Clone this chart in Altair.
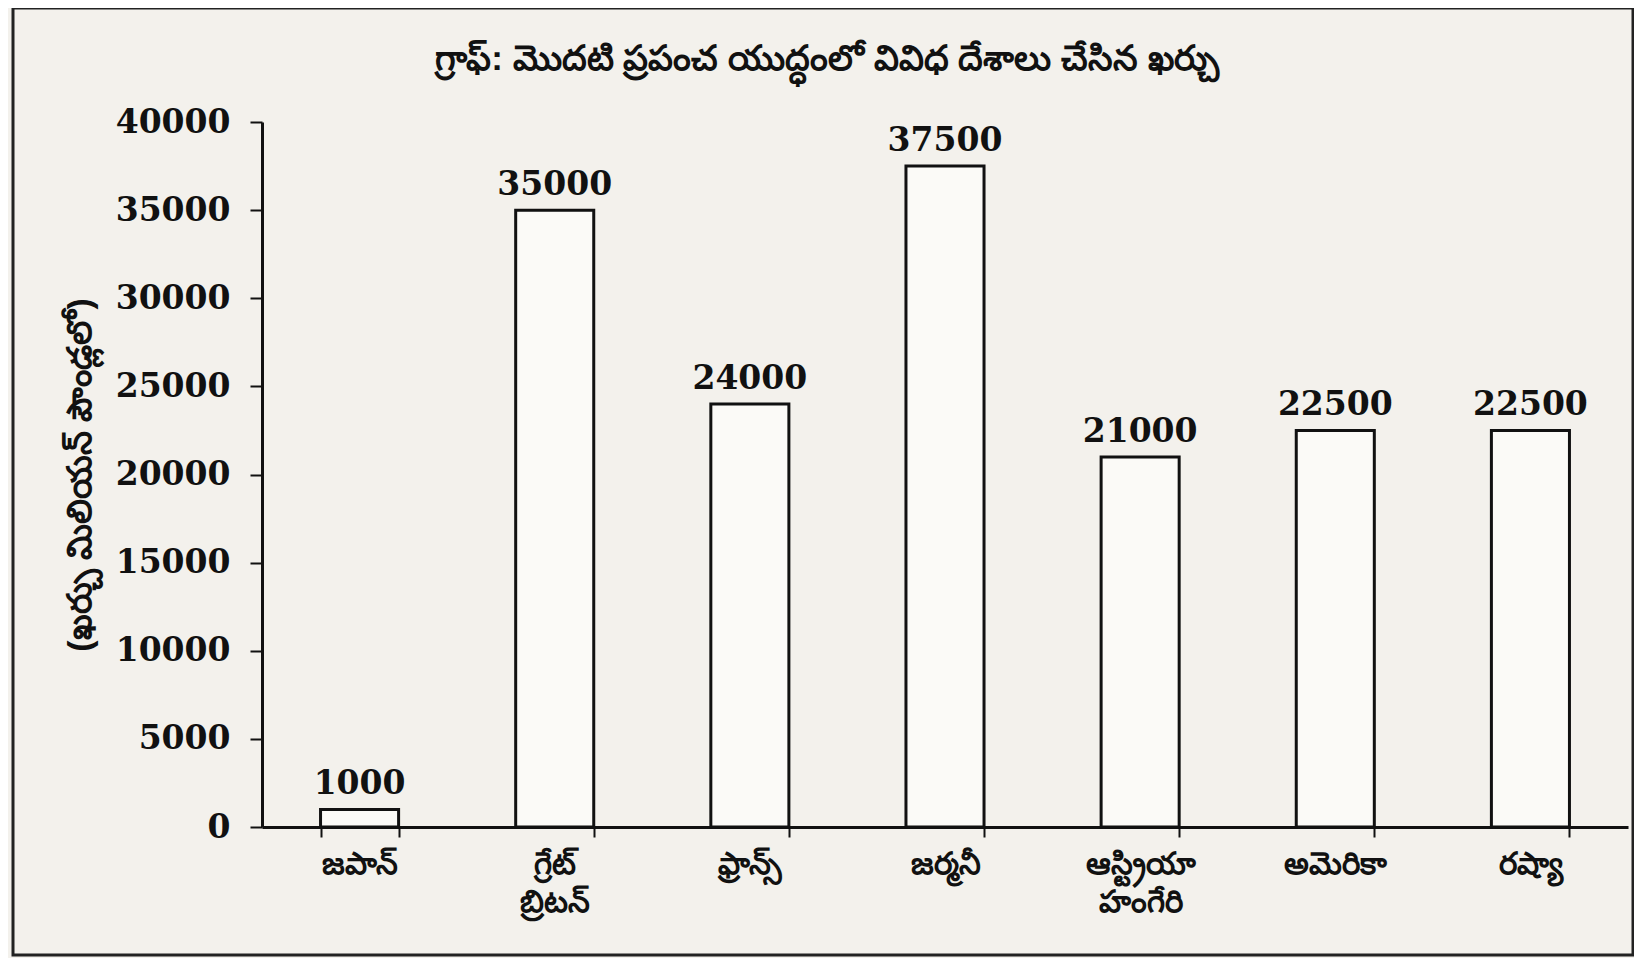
import altair as alt
import pandas as pd

countries = ["జపాన్", "గ్రేట్\nబ్రిటన్", "ఫ్రాన్స్", "జర్మనీ", "ఆస్ట్రియా\nహంగేరి", "అమెరికా", "రష్యా"]
spending = [1000, 35000, 24000, 37500, 21000, 22500, 22500]
y_ticks = [0, 5000, 10000, 15000, 20000, 25000, 30000, 35000, 40000]
title_text = "గ్రాఫ్: మొదటి ప్రపంచ యుద్ధంలో వివిధ దేశాలు చేసిన ఖర్చు"
y_title = "(ఖర్చు మిలియన్ పౌండ్లలో)"

df = pd.DataFrame({"country": countries, "value": spending})

PAPER = "#f3f1ec"
NUM_FONT = "DejaVu Serif"
W, H = 1366, 705

x_enc = alt.X("country:N", sort=countries, title=None,
              scale=alt.Scale(paddingInner=0.6, paddingOuter=0.3),
              axis=alt.Axis(labelAngle=0, labelExpr="split(datum.label, '\\n')",
                            labelFontSize=31, labelFontWeight="bold", labelColor="#111",
                            labelPadding=12, labelLineHeight=38, labelBaseline="top",
                            tickBand="extent", tickSize=10, tickWidth=2,
                            domainWidth=3, domainColor="#111", tickColor="#111"))
y_enc = alt.Y("value:Q", title=y_title,
              scale=alt.Scale(domain=[0, 40000], nice=False),
              axis=alt.Axis(values=y_ticks, format="d", labelFont=NUM_FONT, labelFontWeight="bold",
                            labelFontSize=33, labelColor="#111", labelPadding=20,
                            tickSize=12, tickWidth=2, domainWidth=3, domainColor="#111",
                            tickColor="#111", grid=False, titleFontSize=34,
                            titleFontWeight="bold", titleColor="#111", titlePadding=18))

bars = alt.Chart(df).mark_bar(fill="#fbfaf7", stroke="#111", strokeWidth=3).encode(x=x_enc, y=y_enc)
labels = alt.Chart(df).mark_text(font=NUM_FONT, fontWeight="bold", fontSize=33, color="#111",
                                 baseline="bottom", dy=-8).encode(
    x=alt.X("country:N", sort=countries), y="value:Q", text="value:Q")

frame = alt.Chart(pd.DataFrame({"k": [0]})).mark_rect(fill=None, stroke="#222", strokeWidth=3).encode(
    x=alt.value(-249), x2=alt.value(1371), y=alt.value(-114), y2=alt.value(833))

chart = alt.layer(bars, labels, frame).properties(
    width=W, height=H,
    title=alt.TitleParams(title_text, fontSize=35, fontWeight="bold", color="#111",
                          anchor="middle", dx=-118, offset=0, dy=70),
    autosize=alt.AutoSizeParams(type="none"),
    padding={"left": 254, "top": 114, "right": 6, "bottom": 131},
    background=PAPER,
).configure_view(stroke=None)

chart.save("out.html", embed_options={"renderer": "svg", "actions": False})
